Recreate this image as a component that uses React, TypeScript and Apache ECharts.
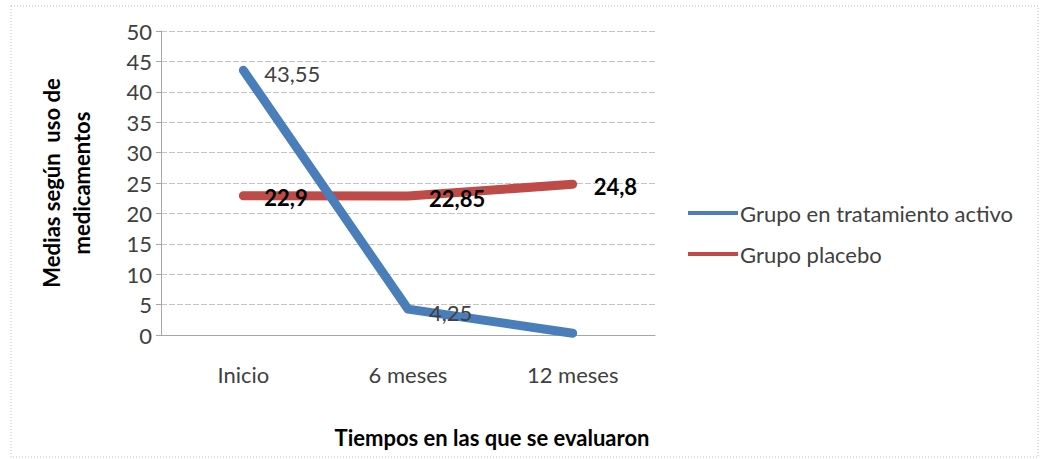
import React, { useEffect, useRef } from "react";
import * as echarts from "echarts";

// Time points and group means
const categories = ["Inicio", "6 meses", "12 meses"];
const activeGroup = [43.55, 4.25, 0.3];
const placeboGroup = [22.9, 22.85, 24.8];
const activeLabelShown = [true, true, false];
const yTicks = { min: 0, max: 50, interval: 5 };

const FONT = "Lato, 'Noto Sans', sans-serif";
const SIZE = 22;
const fmt = (v: number) => String(v).replace(".", ",");

export default function App() {
  const ref = useRef<HTMLDivElement>(null);

  useEffect(() => {
    document.body.style.margin = "0";
    if (!ref.current) return;
    const chart = echarts.init(ref.current, undefined, { renderer: "svg" });

    const gridLine = { lineStyle: { color: "#c4c4c4", width: 1, type: [6, 2] as any } };

    chart.setOption({
      animation: false,
      backgroundColor: "#ffffff",
      textStyle: { fontFamily: FONT },
      graphic: [
        {
          type: "rect",
          shape: { x: 11, y: 6, width: 1027, height: 451 },
          style: { fill: "none", stroke: "#bdbdbd", lineWidth: 1, lineDash: [1, 2] },
          silent: true,
        },
      ],
      grid: { left: 161, top: 31, width: 494, height: 304, containLabel: false },
      legend: {
        orient: "vertical",
        left: 688,
        top: 202,
        padding: 0,
        itemWidth: 50,
        itemHeight: 4,
        itemGap: 19,
        icon: "rect",
        textStyle: { fontFamily: FONT, fontSize: SIZE, color: "#404040", padding: [0, 0, 0, -3] },
        data: ["Grupo en tratamiento activo", "Grupo placebo"],
      },
      xAxis: {
        type: "category",
        data: categories,
        boundaryGap: true,
        name: "Tiempos en las que se evaluaron",
        nameLocation: "middle",
        nameGap: 91,
        nameTextStyle: {
          fontFamily: FONT,
          fontSize: SIZE,
          fontWeight: "bold",
          color: "#000000",
          padding: [0, 0, 0, 168],
        },
        axisLine: { lineStyle: { color: "#a6a6a6" } },
        axisTick: { show: false },
        axisLabel: { fontFamily: FONT, fontSize: SIZE, color: "#404040", margin: 28 },
        splitLine: { show: false },
      },
      yAxis: {
        type: "value",
        min: yTicks.min,
        max: yTicks.max,
        interval: yTicks.interval,
        name: "Medias según  uso de\nmedicamentos",
        nameLocation: "middle",
        nameGap: 65,
        nameRotate: 90,
        nameTextStyle: {
          fontFamily: FONT,
          fontSize: SIZE,
          fontWeight: "bold",
          color: "#000000",
          lineHeight: 30,
        },
        axisLine: { show: true, lineStyle: { color: "#a6a6a6" } },
        axisTick: { show: true, length: 5, lineStyle: { color: "#a6a6a6" } },
        axisLabel: { fontFamily: FONT, fontSize: SIZE, color: "#404040", margin: 9 },
        splitLine: { show: true, ...gridLine },
      },
      series: [
        {
          name: "Grupo en tratamiento activo",
          type: "line",
          data: activeGroup.map((v, i) => ({
            value: v,
            label: { show: activeLabelShown[i] },
          })),
          symbol: "circle",
          symbolSize: 2,
          color: "#4a7ebb",
          lineStyle: { width: 9, color: "#4a7ebb", cap: "round", join: "round" },
          label: {
            show: true,
            position: "right",
            distance: 20,
            offset: [0, 3],
            fontFamily: FONT,
            fontSize: SIZE,
            color: "#404040",
            formatter: (p: any) => fmt(p.value),
          },
          z: 3,
        },
        {
          name: "Grupo placebo",
          type: "line",
          data: placeboGroup,
          symbol: "circle",
          symbolSize: 2,
          color: "#be4b48",
          lineStyle: { width: 9, color: "#be4b48", cap: "round", join: "round" },
          label: {
            show: true,
            position: "right",
            distance: 20,
            offset: [0, 2],
            fontFamily: FONT,
            fontSize: SIZE,
            fontWeight: "bold",
            color: "#000000",
            formatter: (p: any) => fmt(p.value),
          },
          z: 2,
        },
      ],
    });

    return () => chart.dispose();
  }, []);

  return <div ref={ref} style={{ width: 1041, height: 459 }} />;
}
